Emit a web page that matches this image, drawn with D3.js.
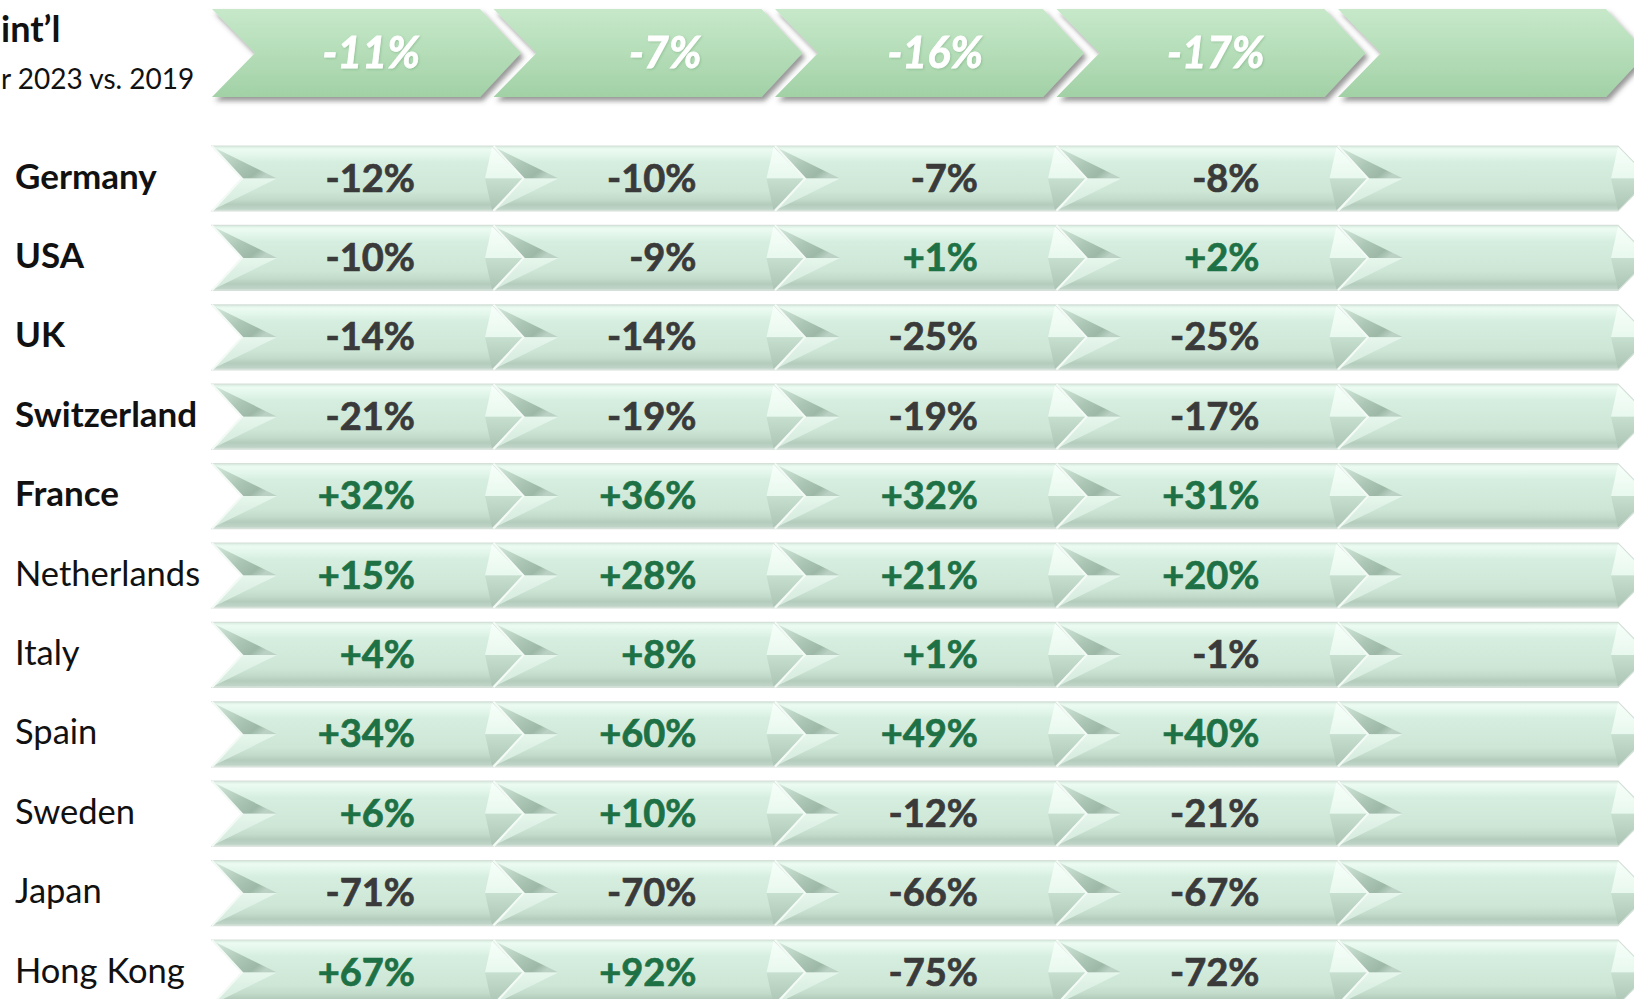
<!DOCTYPE html>
<html lang="en">
<head>
    <meta charset="UTF-8">
    <title>Int'l change 2023 vs. 2019</title>
    <script src="https://d3js.org/d3.v7.min.js"></script>
    <style>
        body{
            margin: 0;
            background-color: #ffffff;
            overflow: hidden;
            font-family: 'Lato', 'Open Sans', sans-serif;
        }
    </style>
</head>
<body>
    <div class="chart"></div>

    <script>

        // data
        var countries = ["Germany", "USA", "UK", "Switzerland", "France", "Netherlands",
                         "Italy", "Spain", "Sweden", "Japan", "Hong Kong"];
        var keyMarkets = ["Germany", "USA", "UK", "Switzerland", "France"];
        var columns = ["c1", "c2", "c3", "c4", "c5"];
        var totalChange = [-11, -7, -16, -17, null];
        var col1 = [-12, -10, -14, -21, 32, 15, 4, 34, 6, -71, 67];
        var col2 = [-10, -9, -14, -19, 36, 28, 8, 60, 10, -70, 92];
        var col3 = [-7, 1, -25, -19, 32, 21, 1, 49, -12, -66, -75];
        var col4 = [-8, 2, -25, -17, 31, 20, -1, 40, -21, -67, -72];
        var titleText = "int\u2019l";
        var subtitleText = "r 2023 vs. 2019";

        var width = 1634, height = 999;

        var rows = countries.map(function(c, i){
            return {country: c, values: [col1[i], col2[i], col3[i], col4[i], null]};
        });

        var fmt = d3.formatLocale({decimal: ".", thousands: ",", grouping: [3],
                                   currency: ["", ""], minus: "-"}).format("+d");
        function pct(v){ return v === null ? "" : fmt(v) + "%"; }

        var svg = d3.select(".chart")
            .append("svg")
            .attr("width", width)
            .attr("height", height);

        var defs = svg.append("defs");

        function grad(id, x2, y2, stops){
            var g = defs.append("linearGradient").attr("id", id)
                .attr("x1", 0).attr("y1", 0).attr("x2", x2).attr("y2", y2);
            stops.forEach(function(s){
                g.append("stop").attr("offset", s[0]).attr("stop-color", s[1]);
            });
        }
        grad("headFill", 0, 1, [[0, "#c7e9ca"], [1, "#a2d1a6"]]);
        grad("rowFill", 0, 1, [[0, "#d6ebde"], [0.05, "#ecfbf2"], [0.15, "#e2f6ea"],
                                [0.25, "#d5eedf"], [0.7, "#cde6d6"], [0.82, "#c2dbcb"],
                                [0.9, "#b3ccbc"], [0.97, "#bfd4c7"], [1, "#dbe8df"]]);
        grad("facetUL", 1, 0.6, [[0, "#d7ecdf"], [0.55, "#adc7b6"], [0.85, "#9db8a7"], [1, "#bad1c3"]]);
        grad("facetLL", 0, 1, [[0, "#e6f6ec"], [1, "#d3e9db"]]);
        grad("facetUR", 0, 1, [[0, "#f7fffa"], [1, "#e8f8ee"]]);
        grad("facetLR", 0, 1, [[0, "#c6dfcf"], [1, "#abc4b4"]]);

        var shadow = defs.append("filter").attr("id", "headShadow")
            .attr("x", "-5%").attr("y", "-10%").attr("width", "115%").attr("height", "130%");
        shadow.append("feDropShadow").attr("dx", 3).attr("dy", 4).attr("stdDeviation", 2.5)
            .attr("flood-color", "#444").attr("flood-opacity", 0.55);

        var textShadow = defs.append("filter").attr("id", "textShadow");
        textShadow.append("feDropShadow").attr("dx", 1).attr("dy", 1).attr("stdDeviation", 1)
            .attr("flood-color", "#4f8a55").attr("flood-opacity", 0.3);

        // scales
        var step = 281.5;
        var xScale = d3.scaleBand()
            .domain(columns)
            .range([212, 212 + step * columns.length])
            .paddingInner(0);

        var yScale = d3.scalePoint()
            .domain(countries)
            .range([178.5, 972.5]);

        // header chevrons
        var hTop = 9, hBot = 97, hMid = 53;
        function headerPath(x0){
            return "M" + x0 + "," + hTop + " L" + (x0 + 268) + "," + hTop +
                   " L" + (x0 + 309) + "," + hMid + " L" + (x0 + 268) + "," + hBot +
                   " L" + x0 + "," + hBot + " L" + (x0 + 43) + "," + hMid + " Z";
        }

        var header = svg.append("g").attr("class", "header");
        header.selectAll("path")
            .data(columns)
            .join("path")
                .attr("d", function(c){ return headerPath(xScale(c)); })
                .attr("fill", "url(#headFill)")
                .attr("filter", "url(#headShadow)");

        header.selectAll("text")
            .data(columns)
            .join("text")
                .attr("x", function(c){ return xScale(c) + 208; })
                .attr("y", hMid + 15)
                .attr("text-anchor", "end")
                .attr("fill", "#ffffff")
                .attr("stroke", "#ffffff")
                .attr("stroke-width", 0.8)
                .attr("font-size", 43)
                .attr("font-weight", "bold")
                .attr("font-style", "italic")
                .attr("filter", "url(#textShadow)")
                .text(function(c, i){ return pct(totalChange[i]); });

        // title, tucked against the left edge like the slide
        svg.append("text")
            .attr("x", 1).attr("y", 42)
            .attr("font-size", 36)
            .attr("font-weight", "bold")
            .attr("fill", "#111")
            .text(titleText);
        svg.append("text")
            .attr("x", 1).attr("y", 89)
            .attr("font-size", 28)
            .attr("fill", "#111")
            .text(subtitleText);

        // row chevrons
        var rowH = 65, W = 280, tip = 32, notch = 30, dart = 65, inTip = 7;
        function pts(arr){ return arr.map(function(p){ return p.join(","); }).join(" "); }

        var rowG = svg.append("g").attr("class", "rows")
            .selectAll("g")
            .data(rows)
            .join("g");

        var cell = rowG.selectAll("g")
            .data(function(d){
                return columns.map(function(c, i){
                    return {country: d.country, col: c, value: d.values[i]};
                });
            })
            .join("g");

        function geo(d){
            var x0 = xScale(d.col), cy = yScale(d.country);
            return {x0: x0, cy: cy, t: cy - rowH / 2, b: cy + rowH / 2};
        }

        cell.append("polygon")
            .attr("points", function(d){
                var g = geo(d);
                return pts([[g.x0, g.t], [g.x0 + W, g.t], [g.x0 + W + tip, g.cy],
                            [g.x0 + W, g.b], [g.x0, g.b], [g.x0 + notch, g.cy]]);
            })
            .attr("fill", "url(#rowFill)")
            .attr("stroke", "#d5e0d9")
            .attr("stroke-width", 1.2);

        cell.append("polygon")
            .attr("points", function(d){
                var g = geo(d);
                return pts([[g.x0 + 1, g.t + 1], [g.x0 + dart, g.cy], [g.x0 + notch, g.cy]]);
            })
            .attr("fill", "url(#facetUL)");

        cell.append("polygon")
            .attr("points", function(d){
                var g = geo(d);
                return pts([[g.x0 + notch, g.cy], [g.x0 + dart, g.cy], [g.x0 + 1, g.b - 1]]);
            })
            .attr("fill", "url(#facetLL)");

        cell.append("polygon")
            .attr("points", function(d){
                var g = geo(d);
                return pts([[g.x0 + W, g.t + 1], [g.x0 + W + tip - 1, g.cy], [g.x0 + W - inTip, g.cy]]);
            })
            .attr("fill", "url(#facetUR)");

        cell.append("polygon")
            .attr("points", function(d){
                var g = geo(d);
                return pts([[g.x0 + W - inTip, g.cy], [g.x0 + W + tip - 1, g.cy], [g.x0 + W, g.b - 1]]);
            })
            .attr("fill", "url(#facetLR)");

        // white edge along the notch
        cell.append("polyline")
            .attr("points", function(d){
                var g = geo(d);
                return pts([[g.x0, g.t], [g.x0 + notch, g.cy], [g.x0, g.b]]);
            })
            .attr("fill", "none")
            .attr("stroke", "#f4fbf7")
            .attr("stroke-width", 2);

        cell.append("text")
            .attr("x", function(d){ return xScale(d.col) + 203; })
            .attr("y", function(d){ return yScale(d.country) + 13; })
            .attr("text-anchor", "end")
            .attr("font-size", 38)
            .attr("font-weight", "bold")
            .attr("fill", function(d){ return d.value > 0 ? "#1e7145" : "#3a3a3a"; })
            .attr("stroke", function(d){ return d.value > 0 ? "#1e7145" : "#3a3a3a"; })
            .attr("stroke-width", 0.7)
            .text(function(d){ return pct(d.value); });

        // country labels
        svg.append("g").attr("class", "labels")
            .selectAll("text")
            .data(countries)
            .join("text")
                .attr("x", 15)
                .attr("y", function(d){ return yScale(d) + 10; })
                .attr("font-size", function(d){ return keyMarkets.indexOf(d) >= 0 ? 35 : 34.5; })
                .attr("font-weight", function(d){ return keyMarkets.indexOf(d) >= 0 ? "bold" : "normal"; })
                .attr("fill", "#111")
                .text(function(d){ return d; });

    </script>

</body>
</html>
